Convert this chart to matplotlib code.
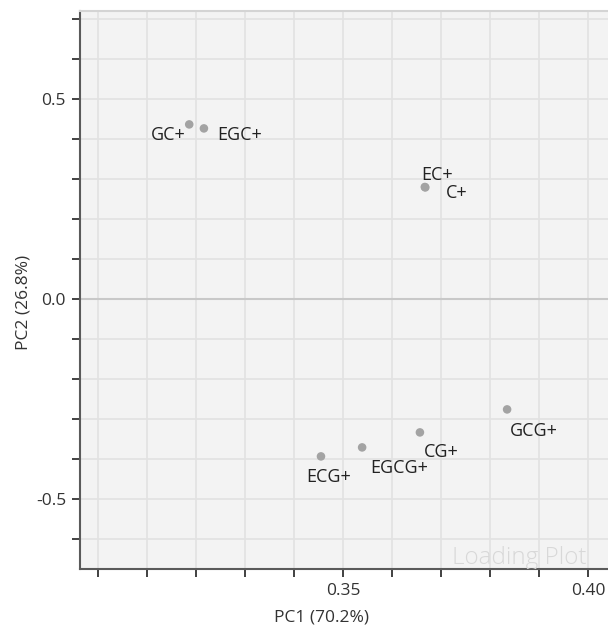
import matplotlib
matplotlib.use("Agg")
import matplotlib.pyplot as plt
from matplotlib.ticker import MultipleLocator, FixedLocator, FixedFormatter

plt.rcParams['font.family'] = ['Open Sans', 'DejaVu Sans']

# Data
labels = ["GC+", "EGC+", "EC+", "C+", "GCG+", "CG+", "EGCG+", "ECG+"]
pc1 = [0.3186, 0.3216, 0.3667, 0.3668, 0.3835, 0.3657, 0.3539, 0.3455]
pc2 = [0.4375, 0.4275, 0.2810, 0.2800, -0.2750, -0.3325, -0.3700, -0.3925]
# label offsets in pixels (dx, dy) relative to points
label_offsets = [(-21, -11), (36, -7), (12, 12), (31, -6), (27, -22), (21, -20), (37, -21), (8, -21)]

x_ticks = [0.35, 0.40]
x_ticklabels = ["0.35", "0.40"]
y_ticks = [-0.5, 0.0, 0.5]
y_ticklabels = ["-0.5", "0.0", "0.5"]

fig = plt.figure(figsize=(6.08, 6.31), dpi=100)
ax = fig.add_axes([80/608, 1 - 569/631, 1 - 80/608, (569 - 11)/631])
ax.set_facecolor("#f3f3f3")

ax.set_xlim(0.2963, 0.4041)
ax.set_ylim(-0.674, 0.721)

ax.xaxis.set_major_locator(FixedLocator(x_ticks))
ax.xaxis.set_major_formatter(FixedFormatter(x_ticklabels))
ax.yaxis.set_major_locator(FixedLocator(y_ticks))
ax.yaxis.set_major_formatter(FixedFormatter(y_ticklabels))
ax.xaxis.set_minor_locator(MultipleLocator(0.01))
ax.yaxis.set_minor_locator(MultipleLocator(0.1))

ax.grid(True, which="both", color="#e2e2e2", linewidth=1.2, zorder=0)
ax.set_axisbelow(True)
ax.axhline(0, color="#c8c8c8", linewidth=1.5, zorder=1)

ax.spines["right"].set_visible(False)
ax.spines["top"].set_color("#d4d4d4")
ax.spines["top"].set_linewidth(1.5)
for s in ["left", "bottom"]:
    ax.spines[s].set_color("#5a5a5a")
    ax.spines[s].set_linewidth(1.5)

ax.tick_params(which="both", direction="out", length=6, width=1.3, color="#333333",
               labelsize=12.5, labelcolor="#333333")
ax.tick_params(axis="x", which="both", pad=4)
ax.tick_params(axis="y", which="both", pad=4)

ax.scatter(pc1, pc2, s=38, color="#a3a3a3", edgecolors="none", zorder=3)
for lab, x, y, (dx, dy) in zip(labels, pc1, pc2, label_offsets):
    ax.annotate(lab, (x, y), xytext=(dx, dy), textcoords="offset pixels",
                ha="center", va="center", fontsize=13, color="#222222", zorder=4)

ax.text((452 - 80) / 528, (569 - 564) / 558, "Loading Plot", transform=ax.transAxes, fontsize=17.5,
        color="#d8d8d8", ha="left", va="baseline", fontweight="light", clip_on=True)

ax.set_xlabel("PC1 (70.2%)", fontsize=12.5, color="#333333")
ax.set_ylabel("PC2 (26.8%)", fontsize=12.5, color="#333333")
ax.xaxis.set_label_coords((321 - 80) / 528, -(610 - 569) / 558)
ax.yaxis.set_label_coords(-(80 - 32) / 528, (569 - 302) / 558)

fig.savefig("out.png", dpi=100)
